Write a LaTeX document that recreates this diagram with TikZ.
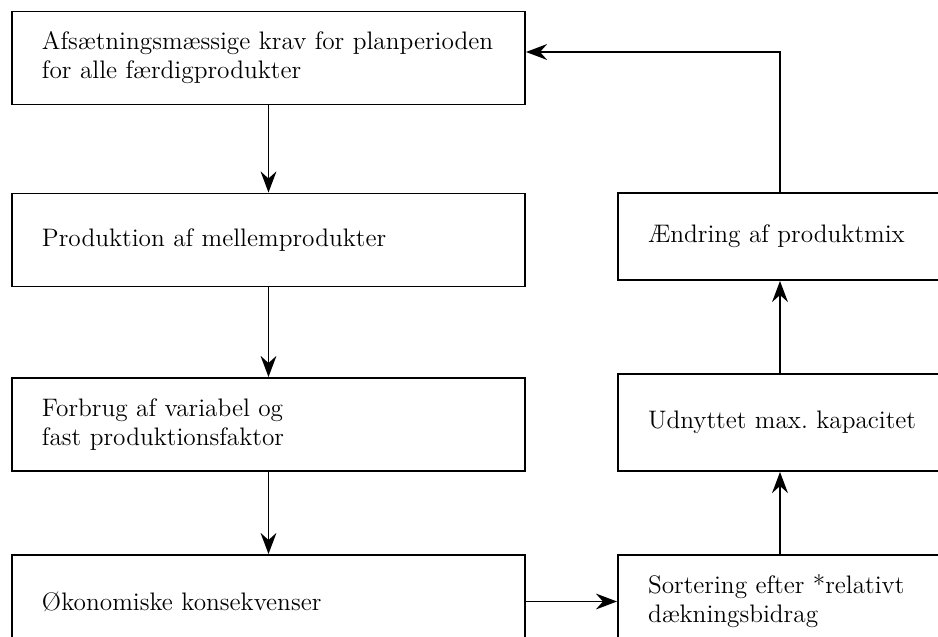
\documentclass[tikz,border=0pt]{standalone}
\usetikzlibrary{arrows.meta}
\begin{document}
\begin{tikzpicture}[>={Stealth[length=12pt, width=9pt, inset=4pt]}, auto, node distance=3.6cm,
    boks/.style={draw, rectangle, line width=1.1pt, align=left, inner xsep=0.6cm, font=\fontsize{14.4}{16.5}\selectfont},
    venstre/.style={boks, text width=9.06cm, minimum height=1.86cm},
    hoejre/.style={boks, text width=5.28cm},
    pil/.style={->, line width=1.1pt}]
    \useasboundingbox (0,0) rectangle (18.76,-12.74);
    \clip (0,0) rectangle (18.76,-12.74);
    \node[venstre] (afs) at (5.37,-1.16) {Afsætningsmæssige krav for planperioden\\for alle færdigprodukter};
    \node[venstre, below of=afs, node distance=3.64cm] (prod) {Produktion af mellemprodukter};
    \node[venstre, below of=prod, node distance=3.69cm] (forb) {Forbrug af variabel og\\fast produktionsfaktor};
    \node[venstre, below of=forb, node distance=3.54cm] (oek) {Økonomiske konsekvenser};
    \node[hoejre, minimum height=1.86cm, right of=oek, node distance=10.23cm] (sort) {Sortering efter *relativt\\dækningsbidrag};
    \node[hoejre, minimum height=1.94cm, above of=sort, node distance=3.58cm] (udn) {\mbox{Udnyttet max.\ kapacitet}};
    \node[hoejre, minimum height=1.74cm, above of=udn, node distance=3.72cm] (aend) {Ændring af produktmix};

    \draw[pil] (afs) -- (prod);
    \draw[pil] (prod) -- (forb);
    \draw[pil] (forb) -- (oek);
    \draw[pil] (oek) -- (sort);
    \draw[pil] (sort) -- (udn);
    \draw[pil] (udn) -- (aend);
    \draw[pil] (aend.north) |- ([yshift=0.12cm]afs.east);
\end{tikzpicture}
\end{document}
